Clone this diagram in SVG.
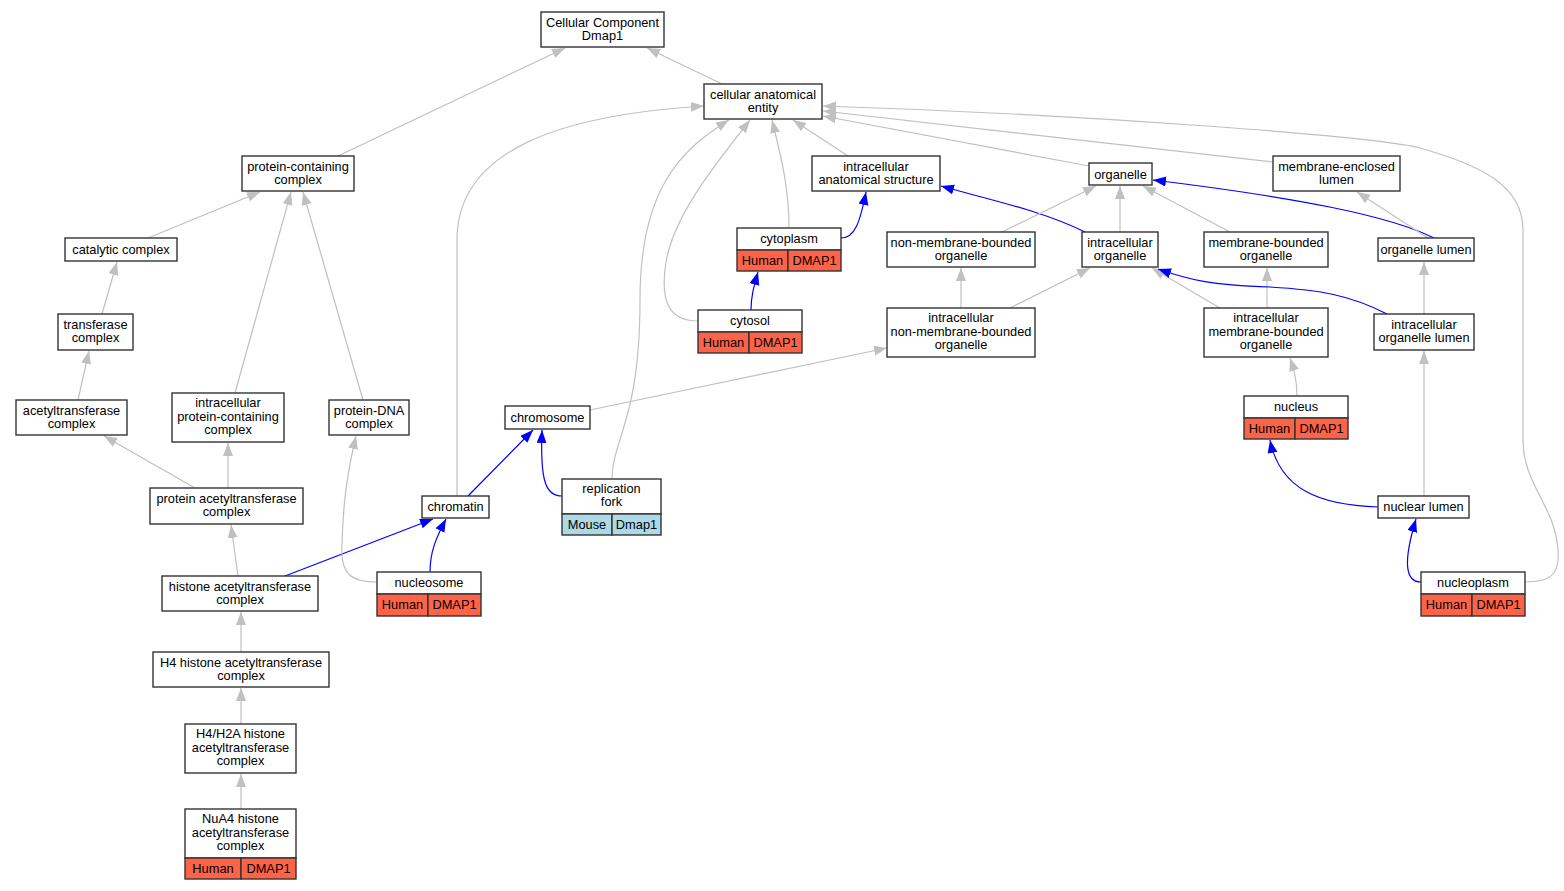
<svg xmlns="http://www.w3.org/2000/svg" width="1564" height="891" viewBox="0 0 1564 891">
<style>
text{font-family:"Liberation Sans",Arial,sans-serif;font-size:12.8px;fill:#000;text-anchor:middle}
.n rect{fill:#fff;stroke:#333;stroke-width:1.4}
.n rect.h{fill:#ff6347}
.n rect.m{fill:#add8e6}
.e path{fill:none;stroke:#c0c0c0;stroke-width:1.2}
.e path.b{stroke:#0000ff}
</style>
<defs>
<marker id="ag" markerUnits="userSpaceOnUse" markerWidth="14" markerHeight="11" refX="13" refY="5" orient="auto"><path d="M0,0 L13,5 L0,10 z" fill="#c0c0c0"/></marker>
<marker id="ab" markerUnits="userSpaceOnUse" markerWidth="14" markerHeight="11" refX="13" refY="5" orient="auto"><path d="M0,0 L13,5 L0,10 z" fill="#0000ff"/></marker>
</defs>
<rect width="1564" height="891" fill="#fff"/>
<g class="e" id="edges">
<path marker-end="url(#ag)" d="M722,84 L647,48"/>
<path marker-end="url(#ag)" d="M338,156 L565,48"/>
<path marker-end="url(#ag)" d="M148,238 L260,192"/>
<path marker-end="url(#ag)" d="M102,314 L117,262"/>
<path marker-end="url(#ag)" d="M78,400 L89,351"/>
<path marker-end="url(#ag)" d="M195,488 L104,436"/>
<path marker-end="url(#ag)" d="M228,488 L228,443"/>
<path marker-end="url(#ag)" d="M235,393 L291,192"/>
<path marker-end="url(#ag)" d="M363,400 L303,192"/>
<path marker-end="url(#ag)" d="M238,576 L231,525"/>
<path marker-end="url(#ag)" d="M241,652 L241,612"/>
<path marker-end="url(#ag)" d="M241,724 L241,688"/>
<path marker-end="url(#ag)" d="M241,809 L241,774"/>
<path class="b" marker-end="url(#ab)" d="M285,576 L433,519"/>
<path class="b" marker-end="url(#ab)" d="M430,572 C430,552 436,538 446,519"/>
<path marker-end="url(#ag)" d="M377,582 C352,582 340,575 342,545 C343,500 348,470 356,436"/>
<path class="b" marker-end="url(#ab)" d="M468,496 L533,430"/>
<path class="b" marker-end="url(#ab)" d="M562,496 C546,496 540,482 542,430"/>
<path marker-end="url(#ag)" d="M457,496 L457,240 C457,150 560,115 704,106"/>
<path marker-end="url(#ag)" d="M612,479 C612,440 640,420 640,300 C640,190 680,150 729,120"/>
<path marker-end="url(#ag)" d="M698,321 C668,321 660,300 666,262 C674,215 715,165 750,120"/>
<path marker-end="url(#ag)" d="M789,228 C789,190 782,160 772,120"/>
<path marker-end="url(#ag)" d="M848,156 L793,120"/>
<path marker-end="url(#ag)" d="M1089,166 L823,116"/>
<path marker-end="url(#ag)" d="M1273,162 L823,111"/>
<path marker-end="url(#ag)" d="M1525,582 C1550,582 1560,575 1558,550 C1555,505 1523,485 1523,440 L1523,230 C1523,185 1480,165 1420,148 C1380,137 1100,115 823,106"/>
<path class="b" marker-end="url(#ab)" d="M841,238 C855,238 860,222 866,192"/>
<path class="b" marker-end="url(#ab)" d="M751,310 C751,296 754,286 758,272"/>
<path class="b" marker-end="url(#ab)" d="M1085,232 C1040,210 990,200 941,186"/>
<path marker-end="url(#ag)" d="M1120,232 L1120,186"/>
<path marker-end="url(#ag)" d="M1002,232 L1096,186"/>
<path marker-end="url(#ag)" d="M1230,232 L1143,186"/>
<path class="b" marker-end="url(#ab)" d="M1434,238 C1390,216 1300,198 1153,180"/>
<path marker-end="url(#ag)" d="M1428,238 L1357,192"/>
<path marker-end="url(#ag)" d="M961,308 L961,268"/>
<path marker-end="url(#ag)" d="M1010,308 L1090,268"/>
<path marker-end="url(#ag)" d="M1220,308 L1152,268"/>
<path marker-end="url(#ag)" d="M1267,308 L1267,268"/>
<path class="b" marker-end="url(#ab)" d="M1387,314 C1350,295 1320,290 1270,287 C1210,285 1190,280 1158,269"/>
<path marker-end="url(#ag)" d="M1424,314 L1424,262"/>
<path marker-end="url(#ag)" d="M590,410 L887,348"/>
<path marker-end="url(#ag)" d="M1297,396 C1297,380 1294,370 1290,358"/>
<path class="b" marker-end="url(#ab)" d="M1378,507 C1320,505 1280,490 1270,440"/>
<path marker-end="url(#ag)" d="M1424,496 L1424,351"/>
<path class="b" marker-end="url(#ab)" d="M1421,582 C1405,582 1403,562 1416,519"/>
</g>
<g class="n" id="n_ccd"><rect x="541" y="12" width="123" height="35"/><text x="602.5" y="26.5">Cellular Component</text><text x="602.5" y="39.5">Dmap1</text></g>
<g class="n" id="n_cae"><rect x="704" y="84" width="118" height="35"/><text x="763" y="98.5">cellular anatomical</text><text x="763" y="111.5">entity</text></g>
<g class="n" id="n_pcc"><rect x="242" y="156" width="112" height="35"/><text x="298" y="170.5">protein-containing</text><text x="298" y="183.5">complex</text></g>
<g class="n" id="n_ias"><rect x="812" y="156" width="128" height="35"/><text x="876" y="170.5">intracellular</text><text x="876" y="183.5">anatomical structure</text></g>
<g class="n" id="n_org"><rect x="1089" y="163" width="63" height="22"/><text x="1120.5" y="178.5">organelle</text></g>
<g class="n" id="n_mel"><rect x="1273" y="156" width="127" height="35"/><text x="1336.5" y="170.5">membrane-enclosed</text><text x="1336.5" y="183.5">lumen</text></g>
<g class="n" id="n_cat"><rect x="65" y="238" width="112" height="23"/><text x="121" y="253.5">catalytic complex</text></g>
<g class="n" id="n_nmbo"><rect x="887" y="232" width="148" height="35"/><text x="961" y="246.5">non-membrane-bounded</text><text x="961" y="259.5">organelle</text></g>
<g class="n" id="n_io"><rect x="1082" y="232" width="76" height="35"/><text x="1120" y="246.5">intracellular</text><text x="1120" y="259.5">organelle</text></g>
<g class="n" id="n_mbo"><rect x="1204" y="232" width="124" height="35"/><text x="1266" y="246.5">membrane-bounded</text><text x="1266" y="259.5">organelle</text></g>
<g class="n" id="n_ol"><rect x="1378" y="238" width="96" height="23"/><text x="1426" y="253.5">organelle lumen</text></g>
<g class="n" id="n_cytoplasm"><rect x="737" y="228" width="104" height="22"/><rect class="h" x="737" y="250" width="51" height="21"/><rect class="h" x="788" y="250" width="53" height="21"/><text x="789" y="243">cytoplasm</text><text x="762.5" y="265">Human</text><text x="814.5" y="265">DMAP1</text></g>
<g class="n" id="n_tc"><rect x="58" y="314" width="75" height="36"/><text x="95.5" y="328.5">transferase</text><text x="95.5" y="341.5">complex</text></g>
<g class="n" id="n_cytosol"><rect x="698" y="310" width="104" height="22"/><rect class="h" x="698" y="332" width="51" height="21"/><rect class="h" x="749" y="332" width="53" height="21"/><text x="750" y="325">cytosol</text><text x="723.5" y="347">Human</text><text x="775.5" y="347">DMAP1</text></g>
<g class="n" id="n_inmbo"><rect x="887" y="308" width="148" height="49"/><text x="961" y="322">intracellular</text><text x="961" y="335.5">non-membrane-bounded</text><text x="961" y="349">organelle</text></g>
<g class="n" id="n_imbo"><rect x="1204" y="308" width="124" height="49"/><text x="1266" y="322">intracellular</text><text x="1266" y="335.5">membrane-bounded</text><text x="1266" y="349">organelle</text></g>
<g class="n" id="n_iol"><rect x="1374" y="314" width="100" height="36"/><text x="1424" y="328.5">intracellular</text><text x="1424" y="341.5">organelle lumen</text></g>
<g class="n" id="n_ac"><rect x="16" y="400" width="111" height="35"/><text x="71.5" y="414.5">acetyltransferase</text><text x="71.5" y="427.5">complex</text></g>
<g class="n" id="n_ipcc"><rect x="172" y="393" width="112" height="49"/><text x="228" y="407">intracellular</text><text x="228" y="420.5">protein-containing</text><text x="228" y="434">complex</text></g>
<g class="n" id="n_pdna"><rect x="329" y="400" width="80" height="35"/><text x="369" y="414.5">protein-DNA</text><text x="369" y="427.5">complex</text></g>
<g class="n" id="n_chromosome"><rect x="505" y="406" width="85" height="23"/><text x="547.5" y="421.5">chromosome</text></g>
<g class="n" id="n_nucleus"><rect x="1244" y="396" width="104" height="22"/><rect class="h" x="1244" y="418" width="51" height="21"/><rect class="h" x="1295" y="418" width="53" height="21"/><text x="1296" y="411">nucleus</text><text x="1269.5" y="433">Human</text><text x="1321.5" y="433">DMAP1</text></g>
<g class="n" id="n_rf"><rect x="562" y="479" width="99" height="35"/><rect class="m" x="562" y="514" width="50" height="21"/><rect class="m" x="612" y="514" width="49" height="21"/><text x="611.5" y="493">replication</text><text x="611.5" y="506">fork</text><text x="587" y="529">Mouse</text><text x="636.5" y="529">Dmap1</text></g>
<g class="n" id="n_pac"><rect x="150" y="488" width="153" height="36"/><text x="226.5" y="502.5">protein acetyltransferase</text><text x="226.5" y="515.5">complex</text></g>
<g class="n" id="n_chromatin"><rect x="422" y="496" width="67" height="22"/><text x="455.5" y="511">chromatin</text></g>
<g class="n" id="n_nl"><rect x="1378" y="496" width="91" height="22"/><text x="1423.5" y="511">nuclear lumen</text></g>
<g class="n" id="n_hac"><rect x="162" y="576" width="156" height="35"/><text x="240" y="590.5">histone acetyltransferase</text><text x="240" y="603.5">complex</text></g>
<g class="n" id="n_nucleosome"><rect x="377" y="572" width="104" height="22"/><rect class="h" x="377" y="594" width="51" height="22"/><rect class="h" x="428" y="594" width="53" height="22"/><text x="429" y="587">nucleosome</text><text x="402.5" y="609">Human</text><text x="454.5" y="609">DMAP1</text></g>
<g class="n" id="n_nucleoplasm"><rect x="1421" y="572" width="104" height="22"/><rect class="h" x="1421" y="594" width="51" height="22"/><rect class="h" x="1472" y="594" width="53" height="22"/><text x="1473" y="587">nucleoplasm</text><text x="1446.5" y="609">Human</text><text x="1498.5" y="609">DMAP1</text></g>
<g class="n" id="n_h4"><rect x="153" y="652" width="176" height="35"/><text x="241" y="666.5">H4 histone acetyltransferase</text><text x="241" y="679.5">complex</text></g>
<g class="n" id="n_h4h2a"><rect x="185" y="724" width="111" height="49"/><text x="240.5" y="738">H4/H2A histone</text><text x="240.5" y="751.5">acetyltransferase</text><text x="240.5" y="765">complex</text></g>
<g class="n" id="n_nua4"><rect x="185" y="809" width="111" height="49"/><rect class="h" x="185" y="858" width="56" height="21"/><rect class="h" x="241" y="858" width="55" height="21"/><text x="240.5" y="823">NuA4 histone</text><text x="240.5" y="836.5">acetyltransferase</text><text x="240.5" y="850">complex</text><text x="213" y="873">Human</text><text x="268.5" y="873">DMAP1</text></g>
</svg>
